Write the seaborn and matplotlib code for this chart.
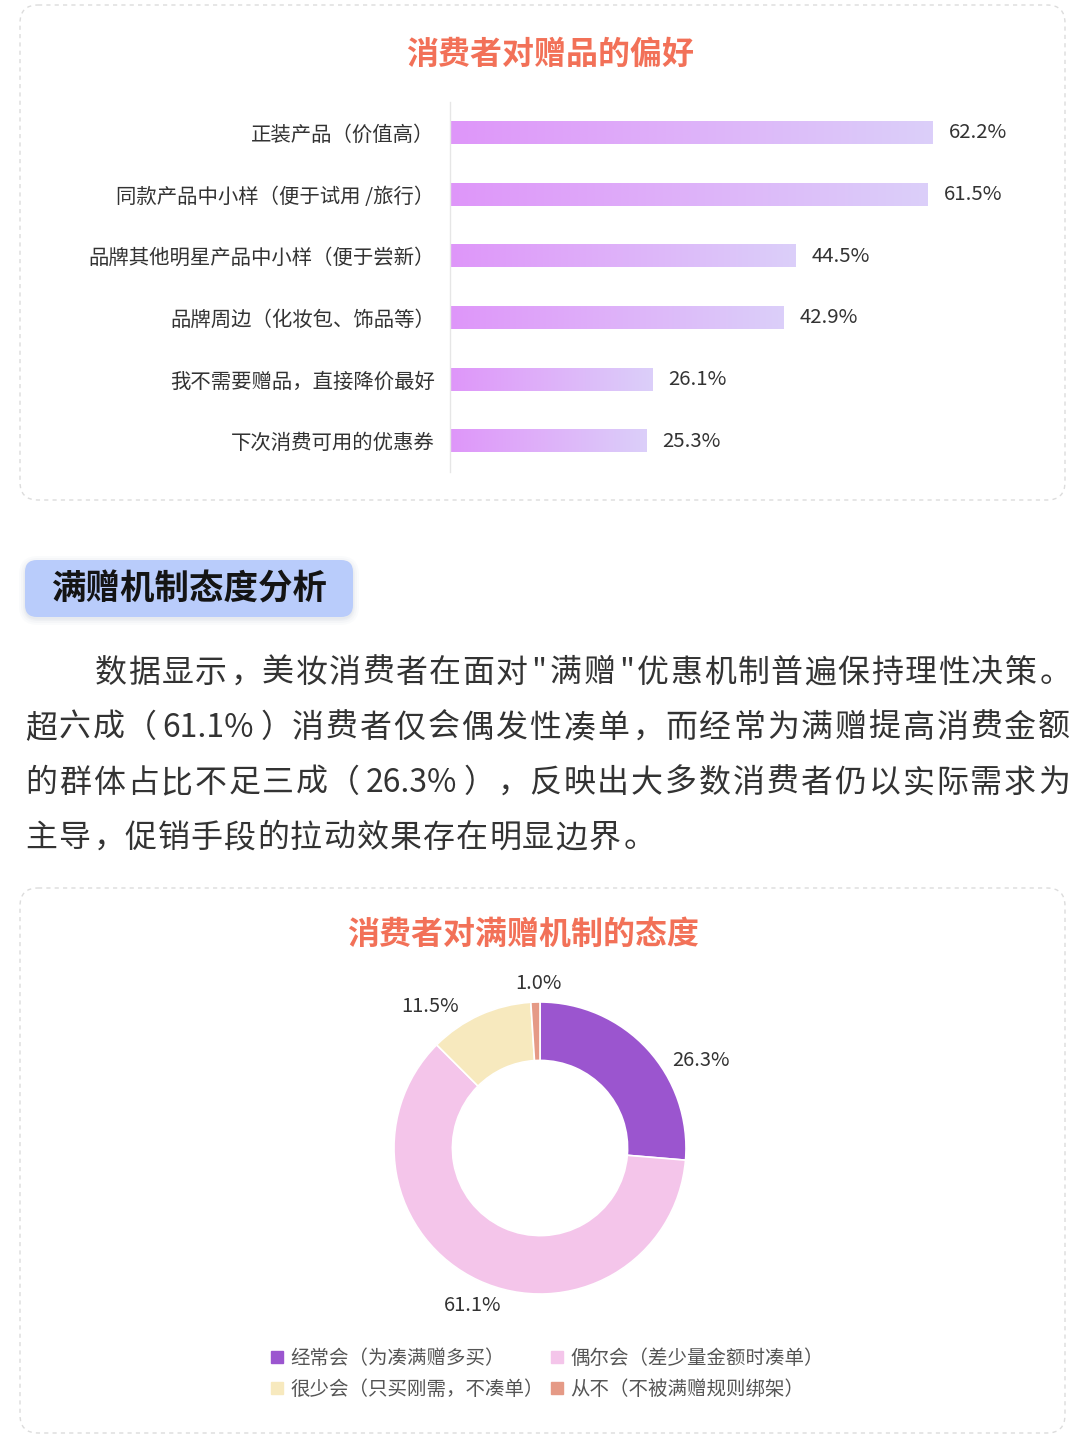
import numpy as np
import pandas as pd
import matplotlib
matplotlib.use("Agg")
import matplotlib.pyplot as plt
import seaborn as sns
from matplotlib.patches import FancyBboxPatch
from matplotlib.colors import LinearSegmentedColormap
from matplotlib.lines import Line2D

# ---- data ----
gift_items = [
    "正装产品（价值高）",
    "同款产品中小样（便于试用 /旅行）",
    "品牌其他明星产品中小样（便于尝新）",
    "品牌周边（化妆包、饰品等）",
    "我不需要赠品，直接降价最好",
    "下次消费可用的优惠券",
]
gift_pct = [62.2, 61.5, 44.5, 42.9, 26.1, 25.3]

attitude_labels = [
    "经常会（为凑满赠多买）",
    "偶尔会（差少量金额时凑单）",
    "很少会（只买刚需，不凑单）",
    "从不（不被满赠规则绑架）",
]
attitude_pct = [26.3, 61.1, 11.5, 1.0]
attitude_colors = ["#9B55CF", "#F4C5EA", "#F7E9BE", "#E59A86"]

title_bar = "消费者对赠品的偏好"
title_pie = "消费者对满赠机制的态度"
section_title = "满赠机制态度分析"
para_lines = [
    "数据显示，美妆消费者在面对\"满赠\"优惠机制普遍保持理性决策。",
    "超六成（61.1%）消费者仅会偶发性凑单，而经常为满赠提高消费金额",
    "的群体占比不足三成（26.3%），反映出大多数消费者仍以实际需求为",
    "主导，促销手段的拉动效果存在明显边界。",
]

# ---- style ----
sns.set_theme(style="white")
plt.rcParams["font.family"] = ["Noto Sans CJK SC", "DejaVu Sans"]

W, H = 1080, 1440
fig = plt.figure(figsize=(W / 100, H / 100), dpi=100)
fig.patch.set_facecolor("white")

# background axes in pixel units
bg = fig.add_axes([0, 0, 1, 1])
bg.set_xlim(0, W)
bg.set_ylim(H, 0)
bg.axis("off")


def panel(x0, y0, x1, y1):
    bg.add_patch(FancyBboxPatch((x0, y0), x1 - x0, y1 - y0,
                                boxstyle="round,pad=0,rounding_size=18",
                                fc="white", ec="#DCDCDC", lw=1.0,
                                ls=(0, (3, 3))))


panel(20, 5, 1065, 500)
panel(20, 888, 1065, 1433)

title_color = "#F27158"
bg.text(550, 55, title_bar, ha="center", va="center", fontsize=23,
        fontweight="bold", color=title_color)
bg.text(523, 935, title_pie, ha="center", va="center", fontsize=23,
        fontweight="bold", color=title_color)

# section header with soft shadow
for k, a in zip([7, 5, 3, 1.5], [0.03, 0.04, 0.05, 0.06]):
    bg.add_patch(FancyBboxPatch((25 - k + 1, 560 - k + 3), 328 + 2 * k - 2, 57 + 2 * k - 2,
                                boxstyle="round,pad=0,rounding_size=%d" % (12 + k),
                                fc="#7F8AA8", ec="none", alpha=a))
bg.add_patch(FancyBboxPatch((25, 560), 328, 57,
                            boxstyle="round,pad=0,rounding_size=12",
                            fc="#B9CCFB", ec="none"))
bg.text(51, 589, section_title, ha="left", va="center", fontsize=24.8,
        fontweight="bold", color="#141414")

# paragraph, laid out token by token so lines are justified
renderer = fig.canvas.get_renderer()
fs = 23
em = fs * 100 / 72


def is_wide(ch):
    return ord(ch) > 0x2E80


def tokens(text):
    out = []
    for ch in text:
        if out and not is_wide(ch) and not is_wide(out[-1][-1]):
            out[-1] += ch
        else:
            out.append(ch)
    return out


def draw_line(text, x0, y, x1=None, gap=1.0):
    toks = tokens(text)
    objs, slots = [], []
    for tk in toks:
        t = bg.text(0, y, tk, fontsize=fs, color="#333333", va="center", ha="left")
        objs.append(t)
        if is_wide(tk[0]):
            slots.append(em)
        else:
            slots.append(t.get_window_extent(renderer).width + 4)
    if x1 is not None:
        gap = (x1 - x0 - sum(slots)) / (len(toks) - 1)
    x = x0
    for tk, t, s in zip(toks, objs, slots):
        if tk in "，。、":
            t.set_x(x + 2)
            t.set_ha("left")
        elif tk == "（":
            t.set_x(x + s - 2)
            t.set_ha("right")
        elif tk == "）":
            t.set_x(x + 2)
            t.set_ha("left")
        elif is_wide(tk[0]):
            t.set_x(x + s / 2)
            t.set_ha("center")
        else:
            t.set_x(x + 2)
            t.set_ha("left")
        x += s + gap


draw_line(para_lines[0], 95, 673, 1070)
draw_line(para_lines[1], 25, 728, 1070)
draw_line(para_lines[2], 25, 783, 1070)
draw_line(para_lines[3], 25, 838, None, gap=1.2)

# ---- bar chart ----
px_per_unit = 483 / 62.2
ax1 = fig.add_axes([450 / W, 1 - 472 / H, 560 / W, 370 / H])
df = pd.DataFrame({"item": gift_items, "pct": gift_pct})
sns.barplot(data=df, x="pct", y="item", orient="h", ax=ax1, width=0.36,
            color="#DF97F9")

cmap = LinearSegmentedColormap.from_list("g", ["#DF96F9", "#DEB2F9", "#DBCFFA"])
grad = np.linspace(0, 1, 256).reshape(1, -1)
for p in list(ax1.patches):
    x, y, w, h = p.get_x(), p.get_y(), p.get_width(), p.get_height()
    ax1.imshow(grad, extent=[x, x + w, y + h, y], cmap=cmap, aspect="auto",
               interpolation="bilinear", zorder=2)
    p.set_visible(False)

for i, v in enumerate(gift_pct):
    ax1.text(v + 16 / px_per_unit, i, f"{v}%", ha="left", va="center",
             fontsize=14.7, color="#333333")

ax1.set_xlim(0, 560 / px_per_unit)
ax1.set_ylim(len(gift_items) - 0.5, -0.5)
ax1.set_xlabel("")
ax1.set_ylabel("")
ax1.set_xticks([])
ax1.tick_params(axis="y", length=0, pad=11, labelsize=14.7, labelcolor="#333333")
for s in ["top", "right", "bottom"]:
    ax1.spines[s].set_visible(False)
ax1.spines["left"].set_color("#E6E6E6")
ax1.spines["left"].set_linewidth(1)
ax1.patch.set_alpha(0)

# ---- donut ----
R = 146
ax2 = fig.add_axes([(540 - 200) / W, 1 - (1148 + 200) / H, 400 / W, 400 / H])
ax2.pie(attitude_pct, colors=attitude_colors, startangle=90, counterclock=False,
        radius=1, wedgeprops=dict(width=0.4, edgecolor="white", linewidth=1.2))
ax2.set_xlim(-200 / R, 200 / R)
ax2.set_ylim(-200 / R, 200 / R)
ax2.set_aspect("equal")
ax2.axis("off")

pie_label_xy = [(1.10, 0.60), (-0.46, -1.08), (-0.75, 0.97), (-0.01, 1.13)]
for (lx, ly), v in zip(pie_label_xy, attitude_pct):
    ax2.text(lx, ly, f"{v}%", ha="center", va="center", fontsize=14.5,
             color="#333333")

order = [0, 2, 1, 3]
handles = [Line2D([], [], marker="s", ls="", markersize=9,
                  color=attitude_colors[i]) for i in order]
fig.legend(handles, [attitude_labels[i] for i in order], ncol=2,
           loc="upper left", bbox_to_anchor=(270 / W, 1 - 1348 / H),
           frameon=False, fontsize=14, handlelength=0.7, handletextpad=0.35,
           columnspacing=0.3, labelspacing=0.5, labelcolor="#555555",
           borderpad=0, borderaxespad=0)

fig.savefig("out.png", dpi=100, facecolor="white")
